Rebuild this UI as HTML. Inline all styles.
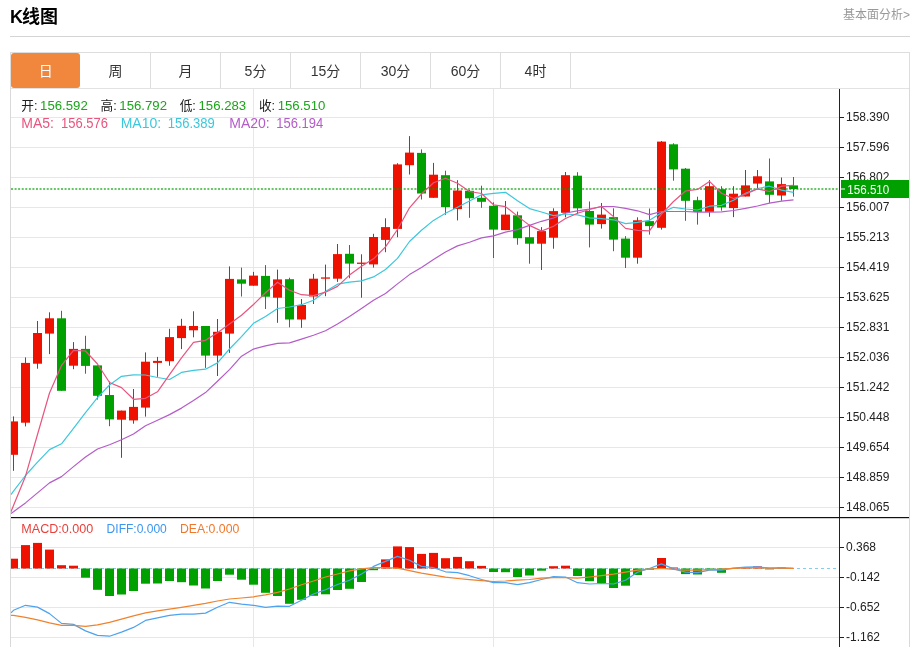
<!DOCTYPE html>
<html lang="zh-CN"><head><meta charset="utf-8"><title>K线图</title>
<style>
html,body{margin:0;padding:0;background:#fff;}
body{width:917px;height:647px;position:relative;overflow:hidden;font-family:"Liberation Sans","Noto Sans CJK SC",sans-serif;}
.title{position:absolute;left:10px;top:3.5px;font-size:18px;font-weight:bold;color:#000;line-height:26px;white-space:nowrap;}
.more{position:absolute;right:7px;top:7.3px;font-size:12px;color:#999;line-height:16px;white-space:nowrap;}
.hr{position:absolute;left:10px;top:36px;width:900px;height:1px;background:#d4d4d4;}
.tabs{position:absolute;left:10px;top:52px;width:898px;height:35px;border:1px solid #ddd;border-bottom-color:#e2e2e2;}
.tab{position:absolute;top:0;width:69px;height:35px;line-height:37px;text-align:center;font-size:14px;color:#333;border-right:1px solid #ddd;}
.tab.on{background:#f0873c;color:#fff;border-right:none;border-radius:3px;width:69.4px}
svg{position:absolute;left:0;top:0;}
svg text{font-family:"Liberation Sans","Noto Sans CJK SC",sans-serif;}
</style></head><body>
<div class="title"><span style="letter-spacing:-1px">K</span>线图</div>
<div class="more">基本面分析&gt;</div>
<div class="hr"></div>
<div class="tabs">
<div class="tab on" style="left:0px">日</div>
<div class="tab" style="left:70px">周</div>
<div class="tab" style="left:140px">月</div>
<div class="tab" style="left:210px">5分</div>
<div class="tab" style="left:280px">15分</div>
<div class="tab" style="left:350px">30分</div>
<div class="tab" style="left:420px">60分</div>
<div class="tab" style="left:490px">4时</div>
</div>
<svg width="917" height="647" viewBox="0 0 917 647">
<rect x="10" y="88" width="1" height="559" fill="#d9d9d9"/>
<rect x="909" y="88" width="1" height="559" fill="#d9d9d9"/>
<g fill="#dfe9f0"><rect x="11" y="117" width="828" height="1"/><rect x="11" y="147" width="828" height="1"/><rect x="11" y="177" width="828" height="1"/><rect x="11" y="207" width="828" height="1"/><rect x="11" y="237" width="828" height="1"/><rect x="11" y="267" width="828" height="1"/><rect x="11" y="297" width="828" height="1"/><rect x="11" y="327" width="828" height="1"/><rect x="11" y="357" width="828" height="1"/><rect x="11" y="387" width="828" height="1"/><rect x="11" y="417" width="828" height="1"/><rect x="11" y="447" width="828" height="1"/><rect x="11" y="477" width="828" height="1"/><rect x="11" y="507" width="828" height="1"/><rect x="11" y="547" width="828" height="1"/><rect x="11" y="577" width="828" height="1"/><rect x="11" y="607" width="828" height="1"/><rect x="11" y="637" width="828" height="1"/><rect x="253" y="89" width="1" height="558"/><rect x="493" y="89" width="1" height="558"/></g>
<line x1="11" y1="568.5" x2="836" y2="568.5" stroke="#87cdeb" stroke-width="1" stroke-dasharray="3 3"/>
<defs><clipPath id="cp"><rect x="11" y="89" width="828" height="558"/></clipPath></defs>
<g clip-path="url(#cp)">
<g fill="#ee1100"><rect x="13.0" y="416.4" width="1" height="54.4"/><rect x="9.0" y="421.4" width="9" height="33.4"/></g>
<g fill="#ee1100"><rect x="25.0" y="357.4" width="1" height="69.0"/><rect x="21.0" y="362.9" width="9" height="59.8"/></g>
<g fill="#ee1100"><rect x="37.0" y="321.0" width="1" height="47.7"/><rect x="33.0" y="333.0" width="9" height="30.7"/></g>
<g fill="#ee1100"><rect x="49.0" y="312.3" width="1" height="41.8"/><rect x="45.0" y="318.3" width="9" height="15.3"/></g>
<g fill="#00a000"><rect x="61.0" y="310.8" width="1" height="80.0"/><rect x="57.0" y="318.3" width="9" height="72.5"/></g>
<g fill="#ee1100"><rect x="73.0" y="342.1" width="1" height="27.1"/><rect x="69.0" y="348.9" width="9" height="16.8"/></g>
<g fill="#00a000"><rect x="85.0" y="335.8" width="1" height="37.9"/><rect x="81.0" y="348.9" width="9" height="17.0"/></g>
<g fill="#00a000"><rect x="97.0" y="365.4" width="1" height="34.2"/><rect x="93.0" y="365.4" width="9" height="30.4"/></g>
<g fill="#00a000"><rect x="109.0" y="381.5" width="1" height="44.7"/><rect x="105.0" y="395.0" width="9" height="24.4"/></g>
<g fill="#ee1100"><rect x="121.0" y="410.6" width="1" height="47.2"/><rect x="117.0" y="410.6" width="9" height="9.1"/></g>
<g fill="#ee1100"><rect x="133.0" y="389.0" width="1" height="34.7"/><rect x="129.0" y="406.9" width="9" height="13.5"/></g>
<g fill="#ee1100"><rect x="145.0" y="352.4" width="1" height="64.2"/><rect x="141.0" y="361.7" width="9" height="45.9"/></g>
<g fill="#ee1100"><rect x="157.0" y="356.9" width="1" height="19.9"/><rect x="153.0" y="360.9" width="9" height="2.0"/></g>
<g fill="#ee1100"><rect x="169.0" y="328.8" width="1" height="36.9"/><rect x="165.0" y="337.1" width="9" height="24.1"/></g>
<g fill="#ee1100"><rect x="181.0" y="318.8" width="1" height="30.3"/><rect x="177.0" y="325.8" width="9" height="12.3"/></g>
<g fill="#ee1100"><rect x="193.0" y="311.3" width="1" height="26.0"/><rect x="189.0" y="326.0" width="9" height="4.3"/></g>
<g fill="#00a000"><rect x="205.0" y="326.0" width="1" height="41.9"/><rect x="201.0" y="326.0" width="9" height="29.6"/></g>
<g fill="#ee1100"><rect x="217.0" y="319.0" width="1" height="57.0"/><rect x="213.0" y="331.8" width="9" height="23.8"/></g>
<g fill="#ee1100"><rect x="229.0" y="266.4" width="1" height="86.5"/><rect x="225.0" y="278.9" width="9" height="54.7"/></g>
<g fill="#00a000"><rect x="241.0" y="267.6" width="1" height="28.9"/><rect x="237.0" y="279.4" width="9" height="4.3"/></g>
<g fill="#ee1100"><rect x="253.0" y="271.9" width="1" height="13.8"/><rect x="249.0" y="275.6" width="9" height="10.1"/></g>
<g fill="#00a000"><rect x="265.0" y="265.1" width="1" height="43.9"/><rect x="261.0" y="275.9" width="9" height="20.8"/></g>
<g fill="#ee1100"><rect x="277.0" y="269.6" width="1" height="53.2"/><rect x="273.0" y="279.4" width="9" height="18.3"/></g>
<g fill="#00a000"><rect x="289.0" y="277.7" width="1" height="49.6"/><rect x="285.0" y="279.2" width="9" height="40.3"/></g>
<g fill="#ee1100"><rect x="301.0" y="299.0" width="1" height="28.8"/><rect x="297.0" y="305.0" width="9" height="14.5"/></g>
<g fill="#ee1100"><rect x="313.0" y="273.9" width="1" height="30.1"/><rect x="309.0" y="278.7" width="9" height="17.8"/></g>
<g fill="#ee1100"><rect x="325.0" y="264.6" width="1" height="31.6"/><rect x="321.0" y="277.4" width="9" height="1.3"/></g>
<g fill="#ee1100"><rect x="337.0" y="244.0" width="1" height="37.9"/><rect x="333.0" y="254.1" width="9" height="24.6"/></g>
<g fill="#00a000"><rect x="349.0" y="245.0" width="1" height="33.2"/><rect x="345.0" y="253.8" width="9" height="9.8"/></g>
<g fill="#ee1100"><rect x="361.0" y="254.3" width="1" height="43.4"/><rect x="357.0" y="262.6" width="9" height="1.3"/></g>
<g fill="#ee1100"><rect x="373.0" y="233.8" width="1" height="33.8"/><rect x="369.0" y="237.0" width="9" height="27.4"/></g>
<g fill="#ee1100"><rect x="385.0" y="218.3" width="1" height="33.9"/><rect x="381.0" y="227.1" width="9" height="12.8"/></g>
<g fill="#ee1100"><rect x="397.0" y="163.2" width="1" height="74.0"/><rect x="393.0" y="164.4" width="9" height="64.5"/></g>
<g fill="#ee1100"><rect x="409.0" y="136.1" width="1" height="38.4"/><rect x="405.0" y="152.6" width="9" height="12.6"/></g>
<g fill="#00a000"><rect x="421.0" y="149.4" width="1" height="50.1"/><rect x="417.0" y="152.9" width="9" height="40.6"/></g>
<g fill="#ee1100"><rect x="433.0" y="162.9" width="1" height="34.9"/><rect x="429.0" y="174.7" width="9" height="23.1"/></g>
<g fill="#00a000"><rect x="445.0" y="170.7" width="1" height="44.1"/><rect x="441.0" y="175.2" width="9" height="31.9"/></g>
<g fill="#ee1100"><rect x="457.0" y="180.2" width="1" height="40.2"/><rect x="453.0" y="190.5" width="9" height="18.6"/></g>
<g fill="#00a000"><rect x="469.0" y="190.0" width="1" height="27.8"/><rect x="465.0" y="190.8" width="9" height="7.5"/></g>
<g fill="#00a000"><rect x="481.0" y="185.7" width="1" height="22.1"/><rect x="477.0" y="197.8" width="9" height="4.0"/></g>
<g fill="#00a000"><rect x="493.0" y="202.3" width="1" height="55.7"/><rect x="489.0" y="205.8" width="9" height="23.8"/></g>
<g fill="#ee1100"><rect x="505.0" y="201.0" width="1" height="29.1"/><rect x="501.0" y="214.6" width="9" height="15.5"/></g>
<g fill="#00a000"><rect x="517.0" y="211.6" width="1" height="33.1"/><rect x="513.0" y="215.3" width="9" height="22.9"/></g>
<g fill="#00a000"><rect x="529.0" y="224.6" width="1" height="39.1"/><rect x="525.0" y="237.2" width="9" height="6.5"/></g>
<g fill="#ee1100"><rect x="541.0" y="227.1" width="1" height="42.9"/><rect x="537.0" y="231.1" width="9" height="12.6"/></g>
<g fill="#ee1100"><rect x="553.0" y="208.3" width="1" height="40.4"/><rect x="549.0" y="211.1" width="9" height="26.6"/></g>
<g fill="#ee1100"><rect x="565.0" y="172.0" width="1" height="45.3"/><rect x="561.0" y="175.2" width="9" height="37.6"/></g>
<g fill="#00a000"><rect x="577.0" y="172.2" width="1" height="41.8"/><rect x="573.0" y="175.7" width="9" height="32.6"/></g>
<g fill="#00a000"><rect x="589.0" y="201.5" width="1" height="45.9"/><rect x="585.0" y="211.0" width="9" height="13.6"/></g>
<g fill="#ee1100"><rect x="601.0" y="203.0" width="1" height="25.6"/><rect x="597.0" y="214.6" width="9" height="9.5"/></g>
<g fill="#00a000"><rect x="613.0" y="208.3" width="1" height="42.9"/><rect x="609.0" y="217.1" width="9" height="22.5"/></g>
<g fill="#00a000"><rect x="625.0" y="236.1" width="1" height="31.9"/><rect x="621.0" y="238.6" width="9" height="19.1"/></g>
<g fill="#ee1100"><rect x="637.0" y="217.3" width="1" height="46.4"/><rect x="633.0" y="220.3" width="9" height="37.4"/></g>
<g fill="#00a000"><rect x="649.0" y="208.5" width="1" height="26.1"/><rect x="645.0" y="221.1" width="9" height="5.0"/></g>
<g fill="#ee1100"><rect x="661.0" y="141.0" width="1" height="88.6"/><rect x="657.0" y="141.6" width="9" height="86.2"/></g>
<g fill="#00a000"><rect x="673.0" y="143.3" width="1" height="37.4"/><rect x="669.0" y="144.3" width="9" height="25.1"/></g>
<g fill="#00a000"><rect x="685.0" y="168.0" width="1" height="52.8"/><rect x="681.0" y="168.7" width="9" height="32.1"/></g>
<g fill="#00a000"><rect x="697.0" y="196.7" width="1" height="27.9"/><rect x="693.0" y="200.2" width="9" height="11.7"/></g>
<g fill="#ee1100"><rect x="709.0" y="180.1" width="1" height="36.7"/><rect x="705.0" y="186.2" width="9" height="25.7"/></g>
<g fill="#00a000"><rect x="721.0" y="186.2" width="1" height="24.5"/><rect x="717.0" y="189.2" width="9" height="18.2"/></g>
<g fill="#ee1100"><rect x="733.0" y="186.2" width="1" height="30.9"/><rect x="729.0" y="193.7" width="9" height="14.4"/></g>
<g fill="#ee1100"><rect x="745.0" y="170.0" width="1" height="26.5"/><rect x="741.0" y="185.4" width="9" height="11.1"/></g>
<g fill="#ee1100"><rect x="757.0" y="170.0" width="1" height="18.0"/><rect x="753.0" y="176.3" width="9" height="7.3"/></g>
<g fill="#00a000"><rect x="769.0" y="158.5" width="1" height="44.3"/><rect x="765.0" y="181.4" width="9" height="13.4"/></g>
<g fill="#ee1100"><rect x="781.0" y="177.5" width="1" height="23.2"/><rect x="777.0" y="184.1" width="9" height="11.4"/></g>
<g fill="#00a000"><rect x="793.0" y="177.0" width="1" height="19.7"/><rect x="789.0" y="185.4" width="9" height="3.6"/></g>
<rect x="9.0" y="558.7" width="9" height="9.8" fill="#ee1100"/>
<rect x="21.0" y="545.1" width="9" height="23.4" fill="#ee1100"/>
<rect x="33.0" y="542.9" width="9" height="25.6" fill="#ee1100"/>
<rect x="45.0" y="549.6" width="9" height="18.9" fill="#ee1100"/>
<rect x="57.0" y="565.2" width="9" height="3.3" fill="#ee1100"/>
<rect x="69.0" y="565.7" width="9" height="2.8" fill="#ee1100"/>
<rect x="81.0" y="568.5" width="9" height="9.2" fill="#00a000"/>
<rect x="93.0" y="568.5" width="9" height="21.3" fill="#00a000"/>
<rect x="105.0" y="568.5" width="9" height="27.5" fill="#00a000"/>
<rect x="117.0" y="568.5" width="9" height="26.0" fill="#00a000"/>
<rect x="129.0" y="568.5" width="9" height="22.5" fill="#00a000"/>
<rect x="141.0" y="568.5" width="9" height="15.2" fill="#00a000"/>
<rect x="153.0" y="568.5" width="9" height="15.0" fill="#00a000"/>
<rect x="165.0" y="568.5" width="9" height="12.5" fill="#00a000"/>
<rect x="177.0" y="568.5" width="9" height="13.7" fill="#00a000"/>
<rect x="189.0" y="568.5" width="9" height="17.0" fill="#00a000"/>
<rect x="201.0" y="568.5" width="9" height="20.0" fill="#00a000"/>
<rect x="213.0" y="568.5" width="9" height="12.5" fill="#00a000"/>
<rect x="225.0" y="568.5" width="9" height="6.2" fill="#00a000"/>
<rect x="237.0" y="568.5" width="9" height="11.2" fill="#00a000"/>
<rect x="249.0" y="568.5" width="9" height="16.2" fill="#00a000"/>
<rect x="261.0" y="568.5" width="9" height="24.3" fill="#00a000"/>
<rect x="273.0" y="568.5" width="9" height="27.5" fill="#00a000"/>
<rect x="285.0" y="568.5" width="9" height="35.3" fill="#00a000"/>
<rect x="297.0" y="568.5" width="9" height="31.3" fill="#00a000"/>
<rect x="309.0" y="568.5" width="9" height="27.3" fill="#00a000"/>
<rect x="321.0" y="568.5" width="9" height="25.8" fill="#00a000"/>
<rect x="333.0" y="568.5" width="9" height="21.5" fill="#00a000"/>
<rect x="345.0" y="568.5" width="9" height="20.3" fill="#00a000"/>
<rect x="357.0" y="568.5" width="9" height="13.5" fill="#00a000"/>
<rect x="369.0" y="568.5" width="9" height="1.7" fill="#00a000"/>
<rect x="381.0" y="559.4" width="9" height="9.1" fill="#ee1100"/>
<rect x="393.0" y="546.4" width="9" height="22.1" fill="#ee1100"/>
<rect x="405.0" y="547.1" width="9" height="21.4" fill="#ee1100"/>
<rect x="417.0" y="553.9" width="9" height="14.6" fill="#ee1100"/>
<rect x="429.0" y="552.9" width="9" height="15.6" fill="#ee1100"/>
<rect x="441.0" y="558.2" width="9" height="10.3" fill="#ee1100"/>
<rect x="453.0" y="556.9" width="9" height="11.6" fill="#ee1100"/>
<rect x="465.0" y="561.2" width="9" height="7.3" fill="#ee1100"/>
<rect x="477.0" y="565.9" width="9" height="2.6" fill="#ee1100"/>
<rect x="489.0" y="568.5" width="9" height="3.5" fill="#00a000"/>
<rect x="501.0" y="568.5" width="9" height="3.7" fill="#00a000"/>
<rect x="513.0" y="568.5" width="9" height="8.5" fill="#00a000"/>
<rect x="525.0" y="568.5" width="9" height="7.0" fill="#00a000"/>
<rect x="537.0" y="568.5" width="9" height="2.2" fill="#00a000"/>
<rect x="549.0" y="566.2" width="9" height="2.3" fill="#ee1100"/>
<rect x="561.0" y="565.7" width="9" height="2.8" fill="#ee1100"/>
<rect x="573.0" y="568.5" width="9" height="7.5" fill="#00a000"/>
<rect x="585.0" y="568.5" width="9" height="12.7" fill="#00a000"/>
<rect x="597.0" y="568.5" width="9" height="14.7" fill="#00a000"/>
<rect x="609.0" y="568.5" width="9" height="19.5" fill="#00a000"/>
<rect x="621.0" y="568.5" width="9" height="17.2" fill="#00a000"/>
<rect x="633.0" y="568.5" width="9" height="6.5" fill="#00a000"/>
<rect x="645.0" y="568.5" width="9" height="1.2" fill="#00a000"/>
<rect x="657.0" y="558.0" width="9" height="10.5" fill="#ee1100"/>
<rect x="669.0" y="567.5" width="9" height="1.0" fill="#ee1100"/>
<rect x="681.0" y="568.5" width="9" height="5.6" fill="#00a000"/>
<rect x="693.0" y="568.5" width="9" height="6.0" fill="#00a000"/>
<rect x="705.0" y="568.5" width="9" height="1.1" fill="#00a000"/>
<rect x="717.0" y="568.5" width="9" height="4.3" fill="#00a000"/>
<rect x="729.0" y="568.5" width="9" height="0.4" fill="#00a000"/>
<rect x="741.0" y="567.2" width="9" height="1.3" fill="#ee1100"/>
<rect x="753.0" y="566.4" width="9" height="2.1" fill="#ee1100"/>
<rect x="765.0" y="568.5" width="9" height="0.9" fill="#00a000"/>
<rect x="777.0" y="567.6" width="9" height="0.9" fill="#ee1100"/>
<line x1="11" y1="189" x2="838" y2="189" stroke="#00a000" stroke-opacity="0.6" stroke-width="1.9" stroke-dasharray="2 1.57"/>
<polyline fill="none" stroke="#b45cc8" stroke-width="1.2" stroke-linejoin="round" points="11,513.4 13.5,511.7 25.5,502.9 37.5,492.9 49.5,482.9 61.5,476.6 73.5,466.6 85.5,457.0 97.5,449.0 109.5,444.7 121.5,439.7 133.5,434.0 145.5,425.7 157.5,420.2 169.5,414.6 181.5,408.1 193.5,400.6 205.5,392.6 217.5,381.3 229.5,369.6 241.5,356.2 253.5,349.1 265.5,345.9 277.5,343.4 289.5,342.9 301.5,339.1 313.5,335.3 325.5,330.8 337.5,324.0 349.5,316.5 361.5,308.5 373.5,300.2 385.5,293.5 397.5,283.9 409.5,274.6 421.5,267.5 433.5,259.4 445.5,252.0 457.5,245.9 469.5,242.2 481.5,237.9 493.5,235.9 505.5,232.1 517.5,229.6 529.5,225.4 541.5,221.3 553.5,218.0 565.5,213.0 577.5,210.8 589.5,209.0 601.5,206.5 613.5,206.5 625.5,208.3 637.5,210.8 649.5,214.6 661.5,211.5 673.5,211.5 685.5,211.5 697.5,212.2 709.5,212.2 721.5,211.9 733.5,210.5 745.5,208.4 757.5,206.0 769.5,203.2 781.5,201.1 793.5,199.9"/>
<polyline fill="none" stroke="#3cc8dc" stroke-width="1.2" stroke-linejoin="round" points="11,494.6 13.5,491.1 25.5,475.5 37.5,462.2 49.5,449.6 61.5,443.8 73.5,428.4 85.5,412.6 97.5,397.6 109.5,385.0 121.5,376.3 133.5,374.8 145.5,375.0 157.5,377.5 169.5,379.5 181.5,372.4 193.5,370.4 205.5,369.2 217.5,362.9 229.5,349.0 241.5,336.6 253.5,323.3 265.5,316.5 277.5,308.5 289.5,307.0 301.5,304.7 313.5,300.2 325.5,291.4 337.5,284.2 349.5,282.2 361.5,280.9 373.5,276.9 385.5,269.5 397.5,258.4 409.5,241.5 421.5,230.2 433.5,220.4 445.5,213.3 457.5,207.3 469.5,201.0 481.5,194.8 493.5,193.3 505.5,192.3 517.5,200.8 529.5,208.6 541.5,212.0 553.5,215.6 565.5,214.0 577.5,214.8 589.5,217.8 601.5,218.6 613.5,219.8 625.5,223.6 637.5,222.3 649.5,220.3 661.5,212.8 673.5,207.3 685.5,209.0 697.5,210.0 709.5,206.2 721.5,205.3 733.5,200.2 745.5,193.2 757.5,188.5 769.5,186.2 781.5,190.1 793.5,192.3"/>
<polyline fill="none" stroke="#e8557f" stroke-width="1.2" stroke-linejoin="round" points="11,511.7 13.5,505.5 25.5,476.2 37.5,434.5 49.5,393.0 61.5,365.4 73.5,350.4 85.5,351.0 97.5,364.0 109.5,382.5 121.5,387.6 133.5,399.3 145.5,398.3 157.5,391.8 169.5,374.6 181.5,357.9 193.5,342.3 205.5,340.3 217.5,332.8 229.5,324.0 241.5,315.3 253.5,304.5 265.5,292.7 277.5,282.2 289.5,290.2 301.5,294.7 313.5,295.7 325.5,292.2 337.5,286.4 349.5,275.1 361.5,266.3 373.5,258.8 385.5,246.8 397.5,229.5 409.5,207.8 421.5,194.0 433.5,182.7 445.5,178.2 457.5,183.2 469.5,191.5 481.5,193.5 493.5,204.8 505.5,206.6 517.5,216.1 529.5,225.4 541.5,231.1 553.5,226.3 565.5,218.5 577.5,213.3 589.5,209.5 601.5,206.5 613.5,216.6 625.5,228.4 637.5,230.4 649.5,230.9 661.5,214.1 673.5,201.5 685.5,191.0 697.5,189.4 709.5,181.4 721.5,193.2 733.5,198.5 745.5,194.1 757.5,188.9 769.5,191.5 781.5,186.2 793.5,185.4"/>
<polyline fill="none" stroke="#4da3ee" stroke-width="1.2" stroke-linejoin="round" points="11,612.8 13.5,610.3 25.5,605.3 37.5,607.1 49.5,613.6 61.5,623.4 73.5,624.4 85.5,630.9 97.5,635.4 109.5,636.2 121.5,632.1 133.5,627.4 145.5,620.4 157.5,617.8 169.5,615.3 181.5,614.1 193.5,614.1 205.5,613.1 217.5,607.3 229.5,602.3 241.5,604.1 253.5,605.3 265.5,607.3 277.5,606.1 289.5,606.3 301.5,600.3 313.5,594.0 325.5,589.8 337.5,584.5 349.5,580.2 361.5,574.0 373.5,566.4 385.5,561.4 397.5,556.4 409.5,560.2 421.5,566.4 433.5,567.7 445.5,571.8 457.5,572.7 469.5,575.7 481.5,579.5 493.5,582.7 505.5,582.7 517.5,584.7 529.5,582.7 541.5,579.5 553.5,576.7 565.5,577.0 577.5,582.7 589.5,584.0 601.5,583.5 613.5,584.0 625.5,580.2 637.5,572.2 649.5,568.5 661.5,563.9 673.5,568.9 685.5,572.2 697.5,572.7 709.5,570.2 721.5,570.2 733.5,568.2 745.5,567.2 757.5,566.9 769.5,568.2 781.5,567.9 793.5,568.4"/>
<polyline fill="none" stroke="#f0822d" stroke-width="1.2" stroke-linejoin="round" points="11,615.3 13.5,615.3 25.5,617.3 37.5,619.9 49.5,622.9 61.5,625.4 73.5,625.4 85.5,626.4 97.5,624.9 109.5,622.4 121.5,619.1 133.5,615.8 145.5,612.8 157.5,610.8 169.5,609.1 181.5,607.3 193.5,605.3 205.5,603.3 217.5,601.0 229.5,599.0 241.5,598.0 253.5,596.8 265.5,594.8 277.5,592.3 289.5,589.0 301.5,584.7 313.5,581.0 325.5,577.0 337.5,574.0 349.5,570.9 361.5,568.9 373.5,567.7 385.5,567.7 397.5,568.2 409.5,570.7 421.5,573.2 433.5,575.2 445.5,577.1 457.5,578.5 469.5,579.7 481.5,580.7 493.5,581.5 505.5,581.0 517.5,580.2 529.5,579.5 541.5,578.2 553.5,577.7 565.5,577.7 577.5,578.2 589.5,577.0 601.5,575.7 613.5,574.2 625.5,572.2 637.5,570.2 649.5,569.1 661.5,568.3 673.5,569.4 685.5,570.2 697.5,570.2 709.5,569.7 721.5,569.2 733.5,568.4 745.5,567.9 757.5,567.7 769.5,568.2 781.5,568.2 793.5,568.4"/>
</g>
<rect x="839" y="89" width="1" height="558" fill="#222"/>
<rect x="11" y="517" width="898" height="1.2" fill="#111"/>
<g fill="#222"><rect x="840" y="117" width="4" height="1"/><rect x="840" y="147" width="4" height="1"/><rect x="840" y="177" width="4" height="1"/><rect x="840" y="207" width="4" height="1"/><rect x="840" y="237" width="4" height="1"/><rect x="840" y="267" width="4" height="1"/><rect x="840" y="297" width="4" height="1"/><rect x="840" y="327" width="4" height="1"/><rect x="840" y="357" width="4" height="1"/><rect x="840" y="387" width="4" height="1"/><rect x="840" y="417" width="4" height="1"/><rect x="840" y="447" width="4" height="1"/><rect x="840" y="477" width="4" height="1"/><rect x="840" y="507" width="4" height="1"/><rect x="840" y="547" width="4" height="1"/><rect x="840" y="577" width="4" height="1"/><rect x="840" y="607" width="4" height="1"/><rect x="840" y="637" width="4" height="1"/></g>
<g font-size="12" fill="#222"><text x="846" y="121.2">158.390</text><text x="846" y="151.2">157.596</text><text x="846" y="181.2">156.802</text><text x="846" y="211.2">156.007</text><text x="846" y="241.2">155.213</text><text x="846" y="271.2">154.419</text><text x="846" y="301.2">153.625</text><text x="846" y="331.2">152.831</text><text x="846" y="361.2">152.036</text><text x="846" y="391.2">151.242</text><text x="846" y="421.2">150.448</text><text x="846" y="451.2">149.654</text><text x="846" y="481.2">148.859</text><text x="846" y="511.2">148.065</text><text x="846" y="551.2">0.368</text><text x="846" y="581.2">-0.142</text><text x="846" y="611.2">-0.652</text><text x="846" y="641.2">-1.162</text></g>
<rect x="841" y="180" width="68" height="18" fill="#00a000"/>
<rect x="841" y="188.5" width="4" height="1" fill="#fff"/>
<text x="847.3" y="193.9" font-size="12" fill="#fff" textLength="42" lengthAdjust="spacingAndGlyphs">156.510</text>
<g font-size="13.2">
<text x="21.3" y="109.7" fill="#222" font-size="12.7">开:</text><text x="40.1" y="110" fill="#1aa51a">156.592</text>
<text x="100.5" y="109.7" fill="#222" font-size="12.7">高:</text><text x="119.3" y="110" fill="#1aa51a">156.792</text>
<text x="179.7" y="109.7" fill="#222" font-size="12.7">低:</text><text x="198.5" y="110" fill="#1aa51a">156.283</text>
<text x="258.9" y="109.7" fill="#222" font-size="12.7">收:</text><text x="277.7" y="110" fill="#1aa51a">156.510</text>
</g>
<g font-size="14">
<text x="21.3" y="127.7" fill="#e8557f">MA5:</text><text x="61.0" y="127.7" fill="#e8557f" textLength="47" lengthAdjust="spacingAndGlyphs">156.576</text>
<text x="120.7" y="127.7" fill="#3cc8dc">MA10:</text><text x="167.7" y="127.7" fill="#3cc8dc" textLength="47" lengthAdjust="spacingAndGlyphs">156.389</text>
<text x="229.3" y="127.7" fill="#b45cc8">MA20:</text><text x="276.3" y="127.7" fill="#b45cc8" textLength="47" lengthAdjust="spacingAndGlyphs">156.194</text>
</g>
<g font-size="12.5">
<text x="21.3" y="532.6" fill="#e8413c" textLength="72" lengthAdjust="spacingAndGlyphs">MACD:0.000</text>
<text x="106.6" y="532.6" fill="#3c96f0" textLength="60.2" lengthAdjust="spacingAndGlyphs">DIFF:0.000</text>
<text x="180" y="532.6" fill="#f0782d" textLength="59.3" lengthAdjust="spacingAndGlyphs">DEA:0.000</text>
</g>
</svg></body></html>
